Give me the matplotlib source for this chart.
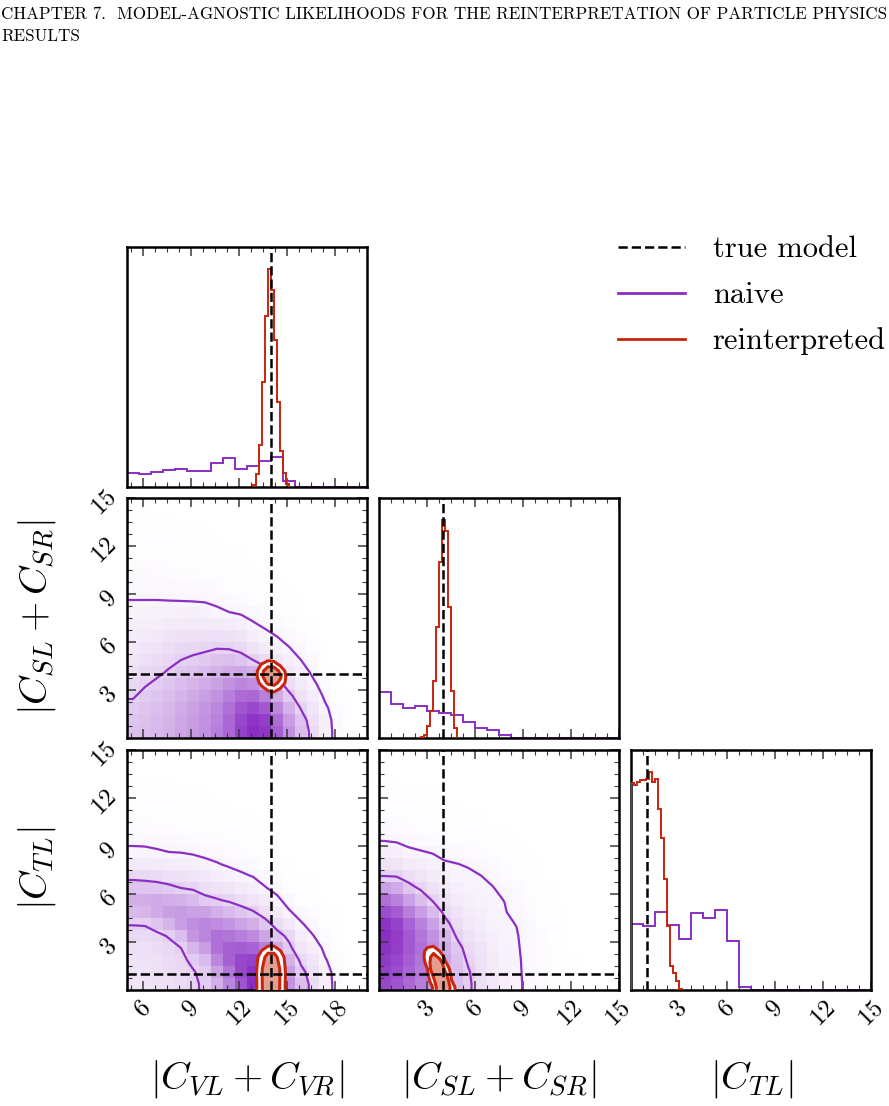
import numpy as np
import matplotlib
matplotlib.use("Agg")
import matplotlib.pyplot as plt
from matplotlib.colors import LinearSegmentedColormap, to_rgba
from matplotlib.ticker import FixedLocator, MultipleLocator, NullLocator
from matplotlib.transforms import ScaledTranslation
from matplotlib.lines import Line2D

plt.rcParams["mathtext.fontset"] = "cm"
plt.rcParams["font.family"] = ["cmr10", "DejaVu Serif"]
plt.rcParams["axes.unicode_minus"] = False

# ---------------------------------------------------------------- data
param_labels = [r"$|C_{VL}+C_{VR}|$", r"$|C_{SL}+C_{SR}|$", r"$|C_{TL}|$"]
param_ranges = [(5.0, 20.0), (0.0, 15.0), (0.0, 15.0)]
true_model = [14.0, 4.0, 1.0]
tick_values = [[6, 9, 12, 15, 18], [3, 6, 9, 12, 15], [3, 6, 9, 12, 15]]
legend_labels = ["true model", "naive", "reinterpreted"]
header_lines = ["CHAPTER 7.  MODEL-AGNOSTIC LIKELIHOODS FOR THE REINTERPRETATION OF PARTICLE PHYSICS",
                "RESULTS"]

n_bins = 20  # naive histograms: 20 bins over each parameter range

# naive 1D marginals (relative heights)
naive_hist_vl = [42, 40, 44, 50, 55, 47, 48, 72, 88, 55, 63, 77, 91, 18]
naive_hist_sl = [138, 103, 90, 95, 80, 75, 68, 48, 30, 25, 8]
naive_hist_tl = [198, 190, 232, 195, 151, 230, 216, 239, 147, 8]

# reinterpreted 1D marginals (fine bins)
reint_bin_width = 0.1875
reint_vl_start = 12.875
reint_hist_vl = [5, 40, 125, 315, 512, 652, 590, 440, 255, 108, 43, 10]
reint_sl_start = 2.625
reint_hist_sl = [3, 10, 35, 80, 173, 335, 530, 657, 623, 393, 143, 30]
reint_tl_start = 0.0
reint_hist_tl = [618, 613, 620, 626, 626, 630, 651, 621, 630, 540, 455, 330, 190, 71, 51, 26, 3]

# naive 2D densities, one list per x-bin (values from bottom y-bin upward, % of max)
naive_vl_sl_cols = [
    [30, 28, 25, 21, 18, 15.5, 13, 11, 9.3, 7.8, 6.5, 5.0, 3.8, 2.8, 2, 1.5, 1, 1, 0.5, 0.5],
    [31, 30, 28, 25, 21, 18, 15, 12, 10, 8, 6.5, 5, 3.8, 2.8, 2, 1.5, 1, 1, 0.5, 0.5],
    [34, 33, 31, 28, 24, 20, 16.5, 13.5, 11, 8.7, 6.8, 5.0, 3.7, 2.7, 2, 1.4, 1, 0.7, 0.5, 0.3],
    [37, 36, 34, 31, 27, 23, 19.5, 16, 12.5, 9.5, 7, 4.9, 3.5, 2.5, 1.8, 1.3, 0.9, 0.6, 0.4, 0.3],
    [43, 42, 40, 36, 32, 27, 22, 18, 14, 10, 7.3, 4.8, 3.3, 2.3, 1.6, 1.1, 0.8, 0.5, 0.3, 0.2],
    [48, 47, 45, 41, 36, 30, 24, 19, 14.5, 10.5, 7.2, 4.7, 3.1, 2.1, 1.4, 1, 0.7, 0.5, 0.3, 0.2],
    [53, 52, 50, 46, 40, 33, 26, 20, 15, 10.5, 7, 4.5, 2.9, 1.9, 1.3, 0.9, 0.6, 0.4, 0.3, 0.2],
    [61, 60, 57, 52, 45, 37, 29, 21.5, 15, 10, 6, 3.8, 2.4, 1.6, 1.1, 0.8, 0.5, 0.3, 0.2, 0.1],
    [73, 72, 68, 61, 52, 41, 31, 21, 14, 9, 5, 3, 1.9, 1.2, 0.8, 0.5, 0.3, 0.2, 0.1, 0.1],
    [90, 88, 81, 71, 58, 42, 28, 18, 12, 7.5, 4.3, 2.5, 1.5, 1, 0.6, 0.4, 0.2, 0.1, 0.1],
    [100, 97, 87, 72, 55, 38, 22, 13.5, 8.5, 5.5, 3.2, 1.8, 1.1, 0.7, 0.4, 0.3, 0.2, 0.1],
    [96, 92, 80, 62, 43, 27, 16.5, 10, 6.5, 4, 2.4, 1.4, 0.8, 0.5, 0.3, 0.2, 0.1],
    [76, 70, 57, 41, 27, 17, 11, 7.3, 4.9, 3.1, 1.9, 1.1, 0.6, 0.4, 0.2, 0.1],
    [52, 47, 37, 25, 16.5, 11, 7.5, 5.2, 3.3, 2, 1.2, 0.7, 0.4, 0.2, 0.1],
    [32, 28, 21, 15, 10.5, 7.5, 5, 3.2, 2, 1.2, 0.7, 0.4, 0.2, 0.1],
    [17, 15, 12, 9, 6, 4, 3, 1.9, 1.1, 0.6, 0.3, 0.2],
    [8, 7.5, 6, 4, 2.7, 1.8, 1.1, 0.6, 0.3],
    [3, 2.8, 2.2, 1.5, 1, 0.6, 0.3, 0.1],
    [1.2, 1, 0.8, 0.5, 0.3, 0.1],
    [0.3, 0.2],
]
naive_vl_tl_cols = [
    [12, 12.5, 13.5, 15, 18, 22.5, 33, 38, 28, 19, 11, 6, 4, 2.5, 1.6, 1, 0.7, 0.5, 0.3, 0.2],
    [13, 13.5, 14, 15, 17, 23, 35, 39, 28, 18, 10.5, 6, 3.8, 2.4, 1.5, 1, 0.7, 0.5, 0.3, 0.2],
    [14, 14.5, 15, 16.5, 19, 28, 40, 41, 27, 17, 10, 5.5, 3.5, 2.2, 1.4, 0.9, 0.6, 0.4, 0.3, 0.2],
    [15, 16, 17, 18, 23, 36, 46, 38, 25, 15, 9, 5, 3.2, 2, 1.3, 0.9, 0.6, 0.4, 0.2, 0.1],
    [17, 18, 19, 22, 32, 47, 48, 37, 22, 14, 8.5, 4.8, 3, 1.9, 1.2, 0.8, 0.5, 0.3, 0.2, 0.1],
    [20, 21, 25, 35, 50, 54, 45, 33, 20, 12.5, 7.5, 4.3, 2.7, 1.7, 1.1, 0.7, 0.5, 0.3, 0.2, 0.1],
    [24, 26, 33, 47, 58, 58, 45, 26, 16, 11, 6.3, 3.7, 2.3, 1.4, 0.9, 0.6, 0.4, 0.3, 0.2, 0.1],
    [38, 45, 58, 68, 68, 55, 38, 23, 14, 8.5, 5.3, 3.2, 2, 1.2, 0.8, 0.5, 0.3, 0.2, 0.1, 0.1],
    [58, 66, 76, 76, 66, 50, 33, 20, 12, 7, 4.3, 2.6, 1.6, 1, 0.6, 0.4, 0.2, 0.1],
    [82, 88, 88, 78, 62, 44, 28, 16, 9.5, 5.8, 3.5, 2.1, 1.3, 0.8, 0.5, 0.3, 0.2, 0.1],
    [100, 98, 90, 75, 56, 38, 23, 13, 8, 4.8, 2.9, 1.7, 1, 0.6, 0.4, 0.2, 0.1],
    [96, 92, 80, 62, 43, 27, 16, 9.5, 5.3, 3.2, 1.9, 1.1, 0.7, 0.4, 0.2, 0.1],
    [76, 70, 57, 41, 27, 17, 10, 6, 3.6, 2.1, 1.3, 0.7, 0.4, 0.2, 0.1],
    [52, 47, 37, 25, 19, 11, 5.5, 3.2, 1.9, 1.1, 0.6, 0.3, 0.2, 0.1],
    [31, 26, 19, 13, 8.5, 5.5, 3.2, 1.9, 1.1, 0.6, 0.3, 0.2, 0.1],
    [17, 15, 12, 8.5, 5.2, 3.2, 2, 1.2, 0.7, 0.4, 0.2, 0.1],
    [8, 7.5, 5.5, 3.7, 2.4, 1.5, 0.9, 0.5, 0.3, 0.1],
    [3, 2.8, 2.2, 1.5, 1, 0.6, 0.4, 0.2, 0.1],
    [1, 0.8, 0.6, 0.4, 0.2, 0.1],
    [0.3, 0.2, 0.1],
]
naive_sl_tl_cols = [
    [88, 90, 94, 98, 100, 97, 85, 68, 45, 22, 14, 8.5, 4.7, 2.8, 1.7, 1, 0.6, 0.4, 0.2, 0.1],
    [82, 85, 88, 92, 93, 90, 78, 60, 40, 21, 13, 7.8, 4.3, 2.6, 1.6, 1, 0.6, 0.4, 0.2, 0.1],
    [72, 74, 77, 80, 80, 75, 62, 45, 27, 16, 10, 6, 3.5, 2.1, 1.3, 0.8, 0.5, 0.3, 0.2, 0.1],
    [62, 64, 66, 68, 66, 60, 47, 32, 20, 13, 8.5, 5.3, 3, 1.8, 1.1, 0.7, 0.4, 0.3, 0.2, 0.1],
    [52, 53, 55, 55, 52, 45, 33, 21, 14, 9.5, 7, 4.7, 2.7, 1.6, 1, 0.6, 0.4, 0.2, 0.1, 0.1],
    [42, 42, 42, 40, 35, 27, 19, 14, 10.5, 7.5, 5.5, 3.8, 2.3, 1.4, 0.9, 0.5, 0.3, 0.2, 0.1],
    [32, 31, 30, 27, 21, 16, 12.5, 10, 7.8, 6, 5.1, 3.1, 1.9, 1.1, 0.7, 0.4, 0.2, 0.1, 0.1],
    [24, 23, 20, 17, 14, 11.5, 9.5, 8, 6.5, 5.8, 4.6, 2.6, 1.6, 0.9, 0.5, 0.3, 0.2, 0.1],
    [16, 15.5, 14, 12.5, 10.5, 9, 7.5, 6.5, 6, 5.1, 3.5, 2.2, 1.3, 0.8, 0.4, 0.2, 0.1],
    [11, 10.5, 9.5, 8.5, 7.5, 6.5, 5.8, 5.4, 5.2, 4, 2.7, 1.8, 1, 0.6, 0.3, 0.2, 0.1],
    [8, 7.5, 7, 6.5, 6, 5.6, 5.2, 4.95, 3.8, 2.6, 1.8, 1.2, 0.7, 0.4, 0.2, 0.1],
    [5.9, 5.8, 5.7, 5.5, 5.3, 4.9, 4.1, 3.3, 2.6, 1.9, 1.3, 0.8, 0.5, 0.3, 0.2, 0.1],
    [4, 3.9, 3.8, 3.6, 3.4, 3.1, 2.7, 2.2, 1.7, 1.2, 0.8, 0.5, 0.3, 0.2, 0.1],
    [2.5, 2.4, 2.3, 2.2, 2, 1.8, 1.5, 1.2, 0.9, 0.6, 0.4, 0.3, 0.2, 0.1],
    [1.5, 1.4, 1.3, 1.2, 1.1, 1, 0.8, 0.6, 0.4, 0.3, 0.2, 0.1],
    [0.8, 0.8, 0.7, 0.7, 0.6, 0.5, 0.4, 0.3, 0.2, 0.1],
    [0.4, 0.4, 0.4, 0.3, 0.3, 0.2, 0.2, 0.1, 0.1],
    [0.2, 0.2, 0.2, 0.1, 0.1, 0.1],
    [0.1, 0.1, 0.1],
    [0],
]

# reinterpreted 2D densities on a local 8x8 grid of 0.375-wide cells
# (one list per y-bin from the bottom, values left -> right, % of max)
reint_cell = 0.375
reint_vl_sl_origin = (12.5, 2.5)
reint_vl_sl_rows = [
    [0, 0, 1, 3, 4, 2, 0, 0],
    [0, 1, 5, 13, 16, 9, 2, 0],
    [0, 3, 16, 45, 52, 28, 6, 0],
    [0, 5, 30, 80, 88, 45, 9, 1],
    [0, 5, 28, 70, 70, 30, 5, 0],
    [0, 3, 12, 25, 20, 8, 1, 0],
    [0, 1, 2, 4, 3, 1, 0, 0],
    [0, 0, 0, 0, 0, 0, 0, 0],
]
reint_vl_tl_origin = (12.5, 0.0)
reint_vl_tl_rows = [
    [0, 6, 35, 86, 86, 35, 6, 0],
    [0, 6, 36, 87, 87, 36, 6, 0],
    [1, 7, 37, 90, 90, 37, 7, 1],
    [0, 6, 36, 86, 86, 36, 6, 0],
    [0, 5, 28, 68, 68, 28, 5, 0],
    [0, 4, 22, 55, 55, 22, 4, 0],
    [0, 2, 11, 28, 28, 11, 2, 0],
    [0, 1, 2, 6, 6, 2, 1, 0],
]
reint_sl_tl_origin = (2.5, 0.0)
reint_sl_tl_rows = [
    [0, 0, 12, 69, 85, 22, 1, 0],
    [0, 1, 26, 89, 67, 11, 0, 0],
    [0, 4, 45, 100, 47, 5, 0, 0],
    [0, 10, 66, 90, 25, 2, 0, 0],
    [1, 16, 70, 62, 12, 0, 0, 0],
    [2, 21, 54, 30, 3, 0, 0, 0],
    [2, 17, 27, 10, 1, 0, 0, 0],
    [1, 5, 5, 1, 0, 0, 0, 0],
]

# ---------------------------------------------------------------- style
PURPLE = "#8a2ec4"
RED = "#c8260c"
naive_levels = [5, 22]
reint_levels = [10, 38]

W, H = 889, 1106
col_x = [127, 378.5, 631]
row_y = [247, 498, 750]
SIZE = 240

fig = plt.figure(figsize=(W / 100, H / 100), dpi=100)


def add_ax(r, c):
    return fig.add_axes([col_x[c] / W, 1 - (row_y[r] + SIZE) / H, SIZE / W, SIZE / H])


def style(ax, ci, ri, is2d, xlab, ylab):
    lo, hi = param_ranges[ci]
    ax.set_xlim(lo, hi)
    ax.xaxis.set_major_locator(FixedLocator(tick_values[ci]))
    ax.xaxis.set_minor_locator(MultipleLocator(0.75))
    if is2d:
        ylo, yhi = param_ranges[ri]
        ax.set_ylim(ylo, yhi)
        ax.yaxis.set_major_locator(FixedLocator(tick_values[ri]))
        ax.yaxis.set_minor_locator(MultipleLocator(0.75))
    else:
        ax.yaxis.set_major_locator(NullLocator())
        ax.yaxis.set_minor_locator(NullLocator())
    ax.tick_params(which="both", direction="in", top=True, bottom=True,
                   left=is2d, right=is2d, color="#3a3a3a")
    ax.tick_params(which="major", length=6.5, width=1.1)
    ax.tick_params(which="minor", length=3.5, width=0.8)
    if xlab:
        ax.set_xticklabels([f"${t}$" for t in tick_values[ci]], rotation=45,
                           fontsize=18, ha="center")
        ax.tick_params(axis="x", pad=5)
    else:
        ax.tick_params(labelbottom=False)
    if is2d and ylab:
        ax.set_yticklabels([f"${t}$" for t in tick_values[ri]], rotation=45,
                           fontsize=18, va="center")
        ax.tick_params(axis="y", pad=4)
        shift = ScaledTranslation(0, -5 / 100, fig.dpi_scale_trans)
        for lab in ax.get_yticklabels():
            lab.set_transform(lab.get_transform() + shift)
    else:
        ax.tick_params(labelleft=False)
    for s in ax.spines.values():
        s.set_linewidth(1.8)


def hist_panel(ax, ci, naive_vals, reint_vals, reint_start):
    lo, hi = param_ranges[ci]
    nedges = np.linspace(lo, hi, n_bins + 1)
    nv = np.array(naive_vals + [0] * (n_bins - len(naive_vals)), float)
    redges = reint_start + reint_bin_width * np.arange(len(reint_vals) + 1)
    rv = np.array(reint_vals, float)
    ax.stairs(nv, nedges, color=PURPLE, lw=1.4, zorder=2)
    ax.stairs(rv, redges, color=RED, lw=1.4, zorder=3)
    ax.axvline(true_model[ci], color="k", ls="--", lw=1.8, zorder=4)
    ax.set_ylim(0, 1.1 * max(rv.max(), nv.max()))


density_cmap = LinearSegmentedColormap.from_list("dens", ["white", PURPLE])


def pad_cols(cols):
    return np.array([c + [0] * (n_bins - len(c)) for c in cols], float).T  # (ny, nx)


def twod_panel(ax, ci, ri, naive_cols, reint_rows, reint_origin, clamp_bottom):
    xlo, xhi = param_ranges[ci]
    ylo, yhi = param_ranges[ri]
    Z = pad_cols(naive_cols)
    xe = np.linspace(xlo, xhi, n_bins + 1)
    ye = np.linspace(ylo, yhi, n_bins + 1)
    ax.pcolormesh(xe, ye, Z, cmap=density_cmap, vmin=0, vmax=Z.max(),
                  shading="flat", zorder=1)
    xc = np.concatenate([[xlo], 0.5 * (xe[1:] + xe[:-1]), [xhi]])
    yc = np.concatenate([[ylo], 0.5 * (ye[1:] + ye[:-1]), [yhi]])
    Zp = np.pad(Z, 1, mode="edge")
    ax.contour(xc, yc, Zp, levels=naive_levels, colors=[PURPLE],
               linewidths=1.6, zorder=2)

    R = np.array(reint_rows, float)
    ny, nx = R.shape
    ox, oy = reint_origin
    rx = ox + reint_cell * (np.arange(nx) + 0.5)
    ry = oy + reint_cell * (np.arange(ny) + 0.5)
    rx = np.concatenate([[rx[0] - reint_cell], rx, [rx[-1] + reint_cell]])
    ry = np.concatenate([[ry[0] - reint_cell], ry, [ry[-1] + reint_cell]])
    Rp = np.pad(R, 1, mode="constant")
    if clamp_bottom:
        ry[0] = oy
        Rp[0, 1:-1] = R[0]
    top = Rp.max() * 1.01
    ax.contourf(rx, ry, Rp, levels=[reint_levels[0], top], colors=["white"], zorder=3)
    ax.contourf(rx, ry, Rp, levels=[reint_levels[1], top],
                colors=[to_rgba(RED, 0.45)], zorder=3.2)
    ax.contour(rx, ry, Rp, levels=reint_levels, colors=[RED], linewidths=2.2, zorder=4)
    ax.axvline(true_model[ci], color="k", ls="--", lw=1.8, zorder=5)
    ax.axhline(true_model[ri], color="k", ls="--", lw=1.8, zorder=5)


# row 0
ax00 = add_ax(0, 0)
hist_panel(ax00, 0, naive_hist_vl, reint_hist_vl, reint_vl_start)
style(ax00, 0, 0, False, False, False)

# row 1
ax10 = add_ax(1, 0)
twod_panel(ax10, 0, 1, naive_vl_sl_cols, reint_vl_sl_rows, reint_vl_sl_origin, False)
style(ax10, 0, 1, True, False, True)
ax11 = add_ax(1, 1)
hist_panel(ax11, 1, naive_hist_sl, reint_hist_sl, reint_sl_start)
style(ax11, 1, 1, False, False, False)

# row 2
ax20 = add_ax(2, 0)
twod_panel(ax20, 0, 2, naive_vl_tl_cols, reint_vl_tl_rows, reint_vl_tl_origin, True)
style(ax20, 0, 2, True, True, True)
ax21 = add_ax(2, 1)
twod_panel(ax21, 1, 2, naive_sl_tl_cols, reint_sl_tl_rows, reint_sl_tl_origin, True)
style(ax21, 1, 2, True, True, False)
ax22 = add_ax(2, 2)
hist_panel(ax22, 2, naive_hist_tl, reint_hist_tl, reint_tl_start)
style(ax22, 2, 2, False, True, False)

# axis labels
for c, xcen in enumerate([247, 499, 752]):
    fig.text(xcen / W, 1 - 1079 / H, param_labels[c], fontsize=28, ha="center", va="center")
fig.text(37 / W, 1 - 617 / H, param_labels[1], fontsize=28, rotation=90, ha="center", va="center")
fig.text(37 / W, 1 - 868 / H, param_labels[2], fontsize=28, rotation=90, ha="center", va="center")

# header
fig.text(1 / W, 1 - 14 / H, header_lines[0], fontsize=12.25, ha="left", va="center")
fig.text(1 / W, 1 - 36 / H, header_lines[1], fontsize=12.25, ha="left", va="center")

# legend
handles = [Line2D([], [], color="k", ls="--", lw=1.8),
           Line2D([], [], color=PURPLE, lw=2.0),
           Line2D([], [], color=RED, lw=2.0)]
fig.legend(handles, legend_labels, loc="upper left", bbox_to_anchor=(618 / W, 1 - 236 / H),
           frameon=False, fontsize=22, handlelength=2.2, handletextpad=0.9,
           labelspacing=0.6, borderpad=0, borderaxespad=0)

fig.savefig("out.png", dpi=100)
